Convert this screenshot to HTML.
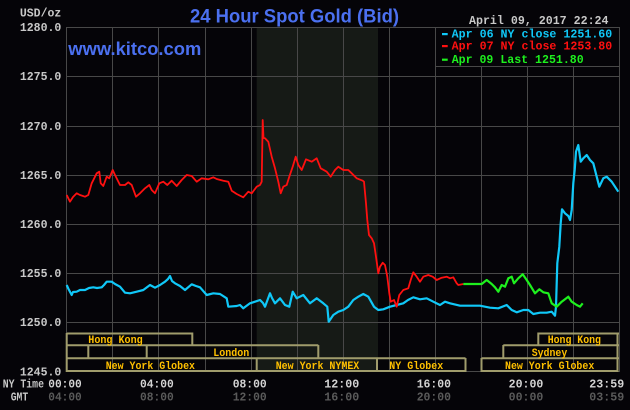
<!DOCTYPE html>
<html><head><meta charset="utf-8"><style>
html,body{margin:0;padding:0;background:#050408;}
svg{display:block;}
.m{font-family:"Liberation Mono",monospace;font-weight:bold;}
.s{font-family:"Liberation Sans",sans-serif;font-weight:bold;}
</style></head><body>
<svg width="630" height="410" viewBox="0 0 630 410" xmlns="http://www.w3.org/2000/svg">
<rect x="0" y="0" width="630" height="410" fill="#050408"/>
<!-- NYMEX shade -->
<rect x="256.7" y="27" width="121.3" height="344.7" fill="#161a16"/>
<!-- grid -->
<g stroke="#484848" stroke-width="1" fill="none">
<path d="M66.5 27.5H619.5M66.5 76.5H619.5M66.5 126.5H619.5M66.5 175.5H619.5M66.5 224.5H619.5M66.5 273.5H619.5M66.5 322.5H619.5M66.5 371.5H619.5"/>
<path d="M66.5 27V372M112.5 27V372M158.5 27V372M205.5 27V372M251.5 27V372M297.5 27V372M343.5 27V372M389.5 27V372M435.5 27V372M481.5 27V372M527.5 27V372M573.5 27V372M619.5 27V372"/>
</g>
<!-- legend box -->
<rect x="435.5" y="27.5" width="184" height="39" fill="#050408" stroke="#484848" stroke-width="1"/>
<!-- session boxes -->
<g stroke="#a09c6c" stroke-width="2" fill="none">
<path d="M66.7 333.5H192.3V345M538.3 345V333.5H619"/>
<path d="M66.7 345.3H318.3M503.3 345.3H619"/>
<path d="M88.3 345V358M146.7 345V358M318.3 345V358M503.3 345V358"/>
<path d="M66.7 358.3H465.5M481.5 358.3H619"/>
<path d="M66.7 371H465.5M481.5 371H617.5"/>
<path d="M66.7 333V372M256.7 358V372M377 358V372M465.5 358V372M481.5 358V372M617.5 333V372"/>
</g>
<!-- series -->
<g fill="none" stroke-linejoin="round">
<polyline stroke="#10c8f8" stroke-width="2.2" points="66.7,285 68.5,289 71.7,295 73,292 76.7,291.7 80,290 85,290 89,288 93.3,287.3 97,288 101.7,287.3 104,285 106.7,281.7 111.7,281.7 115,284 120,286.7 125,292.7 130,293.3 136.7,291.7 143.3,290 150,285 155,287.7 160,285 165,281.7 168,279 170,276 172,281 175,283.3 180,286 185,290 191.7,284.3 196,286 200,287.3 206.7,295 213.3,293.3 220,294 226.7,298.3 228.3,306.7 236.7,306 240,305 243.3,308.3 250,303.3 255,301.7 260,300 263,303 265,306.7 270,293.3 272,298 275,303.3 280,298.3 285,305 289.3,306.7 292.7,291.7 296.7,298.3 303.3,295 310,303.3 316.7,298.3 323.3,303.3 327.3,306.7 328.7,321.7 333.3,315 338.3,311.7 343.3,310 348.3,306.7 353.3,300 358.3,296.7 363.3,294 368.3,296.7 374,306.7 378.3,310 383.3,309.3 390,306.7 396.7,305 403.3,303.3 408,300 413.3,297.3 420,299.3 426.7,298.3 433.3,301.7 440,305 445,301.7 450,303.3 460,305.7 480,305.7 490,307.7 498.3,308.3 506.7,305 511.7,310 516.7,312.3 523.3,310 528.3,310 533.3,314 540,312.7 546.7,312.7 551.7,311.7 555,315.7 556,306.7 557.3,263.3 559.3,246.7 560.7,223.3 562,209.3 565,213.3 568.3,216 570,220 571.7,210 573.3,183.3 574.7,170 576,151.7 578.3,145 580.7,161.7 583.3,158.3 586.7,155 590,160 593.3,163.3 596.7,176.7 599.3,186.7 603.3,178.3 606.7,176.7 611.7,181.7 615,186.7 618.3,191.7"/>
<polyline stroke="#ff1010" stroke-width="1.8" points="66.7,195 70,201.7 73,197 76.7,193.3 80,195 85,196.7 88.3,195 91.7,183.3 96.7,173.3 99.3,171.7 100.7,183.3 103.3,186 106.7,176.7 109.3,178.3 112.7,170 115,175 120,185 125,185 128.3,182.3 131.7,185 136,196.7 140,193.3 145,188.3 149.3,185 151.7,190 155,193.3 159.3,183.3 163.3,181.7 167.3,185 171.7,180.7 176.7,186 181.7,180 186.7,175 191.7,176 196.7,181.7 201.7,178.3 208.3,179.3 213.3,177.3 216.7,179 223.3,180.7 228.3,181.7 231.7,190.7 236.7,194 243.3,197.3 248.3,191.7 251.7,193.3 256.7,186.7 260,185 261.7,181.7 262.7,120 263.5,138 265,138.3 268.3,141.7 271.7,156.7 275,168.3 278.3,181.7 280.7,193.3 283.3,186.7 286.7,185 289.3,176.7 292.7,166.7 295.7,156.7 298.3,165 301.7,170 306,159.3 311.7,161.7 316.7,158.3 320.7,168.3 326.7,171.7 330.7,176.7 335,170 338.3,166.7 343.3,170 348.3,170 351.7,173.3 356.7,178.3 362.7,180.7 364,181.7 366,203.3 367.3,220 369,235 371.7,238.3 374,243.3 376,256.7 378.3,273.3 380,266.7 382.7,262.7 385,265 387.3,276.7 389.3,293.3 390.7,301.7 394,300 396.7,306.7 399.3,295 403.3,290 408.3,288.3 410.7,280 413.3,272.3 416.7,276.7 420,281.7 423.3,276.7 428.3,275 432.7,276.7 436.7,280 441.7,277.7 446.7,276.7 450,278.3 453.3,277.3 456.7,283.3 458.3,285 463.3,284"/>
<polyline stroke="#1ef01e" stroke-width="2.2" points="463.3,284 481.7,284 486.7,280 491.7,284 495,287.3 498.3,291.7 501.7,285 505,286.7 508.3,278.3 511.7,276.7 514,283.3 518.3,278.3 522.7,274.3 526.7,280 530,285 535,293.3 539.3,289.3 543.3,292.3 548.3,293.3 551.7,303.3 556.7,306.7 561.7,301.7 568.3,296.7 571.7,301.7 576.7,305 580,306.7 582.7,303.3"/>
</g>
<!-- titles -->
<text class="s" x="190" y="22.5" font-size="19" fill="#4b70f0" textLength="209" lengthAdjust="spacingAndGlyphs">24 Hour Spot Gold (Bid)</text>
<text class="s" x="68.3" y="55" font-size="18" fill="#4b70f0" textLength="133" lengthAdjust="spacingAndGlyphs">www.kitco.com</text>
<text class="m" x="469" y="24" font-size="11.6" fill="#c8c8c8" textLength="139.5" lengthAdjust="spacingAndGlyphs">April 09, 2017 22:24</text>
<!-- legend -->
<rect x="442" y="33" width="5.7" height="2.2" fill="#10c8f8"/>
<rect x="442" y="45" width="5.7" height="2.2" fill="#ff1010"/>
<rect x="442" y="58.6" width="5.7" height="2.2" fill="#1ef01e"/>
<text class="m" x="451.7" y="37.6" font-size="11.6" fill="#10c8f8" textLength="160.6" lengthAdjust="spacingAndGlyphs">Apr 06 NY close 1251.60</text>
<text class="m" x="451.7" y="49.6" font-size="11.6" fill="#ff1010" textLength="160.6" lengthAdjust="spacingAndGlyphs">Apr 07 NY close 1253.80</text>
<text class="m" x="451.7" y="63.2" font-size="11.6" fill="#1ef01e" textLength="132" lengthAdjust="spacingAndGlyphs">Apr 09 Last 1251.80</text>
<!-- y axis -->
<g class="m" font-size="11.5" fill="#c8c8c8" text-anchor="end">
<text x="61.3" y="16.6">USD/oz</text>
<text x="61.3" y="30.8">1280.0</text>
<text x="61.3" y="80">1275.0</text>
<text x="61.3" y="130">1270.0</text>
<text x="61.3" y="179">1265.0</text>
<text x="61.3" y="228">1260.0</text>
<text x="61.3" y="277">1255.0</text>
<text x="61.3" y="326">1250.0</text>
<text x="61.3" y="375.3">1245.0</text>
</g>
<!-- x axis -->
<g class="m" font-size="11.5">
<text x="2.7" y="387.7" fill="#c8c8c8" textLength="41.3" lengthAdjust="spacingAndGlyphs">NY Time</text>
<text x="10.7" y="400.7" fill="#c8c8c8" textLength="17.5" lengthAdjust="spacingAndGlyphs">GMT</text>
<g fill="#d4d4d4">
<text x="48.3" y="387.7" textLength="33.4" lengthAdjust="spacingAndGlyphs">00:00</text>
<text x="140" y="387.7" textLength="33.7" lengthAdjust="spacingAndGlyphs">04:00</text>
<text x="232.7" y="387.7" textLength="34" lengthAdjust="spacingAndGlyphs">08:00</text>
<text x="324.3" y="387.7" textLength="35" lengthAdjust="spacingAndGlyphs">12:00</text>
<text x="416.7" y="387.7" textLength="34.3" lengthAdjust="spacingAndGlyphs">16:00</text>
<text x="508.7" y="387.7" textLength="34.6" lengthAdjust="spacingAndGlyphs">20:00</text>
<text x="589.3" y="387.7" textLength="35" lengthAdjust="spacingAndGlyphs">23:59</text>
</g>
<g fill="#5a5a5a">
<text x="48.3" y="400.7" textLength="33.4" lengthAdjust="spacingAndGlyphs">04:00</text>
<text x="140" y="400.7" textLength="33.7" lengthAdjust="spacingAndGlyphs">08:00</text>
<text x="232.7" y="400.7" textLength="34" lengthAdjust="spacingAndGlyphs">12:00</text>
<text x="324.3" y="400.7" textLength="35" lengthAdjust="spacingAndGlyphs">16:00</text>
<text x="416.7" y="400.7" textLength="34.3" lengthAdjust="spacingAndGlyphs">20:00</text>
<text x="508.7" y="400.7" textLength="34.6" lengthAdjust="spacingAndGlyphs">00:00</text>
<text x="589.3" y="400.7" textLength="35" lengthAdjust="spacingAndGlyphs">03:59</text>
</g>
</g>
<!-- session labels -->
<g class="m" font-size="11" fill="#ffc000" font-weight="normal">
<text x="88.3" y="342.8" textLength="54.4" lengthAdjust="spacingAndGlyphs">Hong Kong</text>
<text x="213.3" y="356" textLength="36" lengthAdjust="spacingAndGlyphs">London</text>
<text x="105.7" y="369" textLength="89.3" lengthAdjust="spacingAndGlyphs">New York Globex</text>
<text x="275.7" y="369" textLength="83.6" lengthAdjust="spacingAndGlyphs">New York NYMEX</text>
<text x="389.3" y="369" textLength="54" lengthAdjust="spacingAndGlyphs">NY Globex</text>
<text x="505" y="369" textLength="89.3" lengthAdjust="spacingAndGlyphs">New York Globex</text>
<text x="531.7" y="356" textLength="35.6" lengthAdjust="spacingAndGlyphs">Sydney</text>
<text x="547.7" y="342.8" textLength="53.3" lengthAdjust="spacingAndGlyphs">Hong Kong</text>
</g>
</svg>
</body></html>
